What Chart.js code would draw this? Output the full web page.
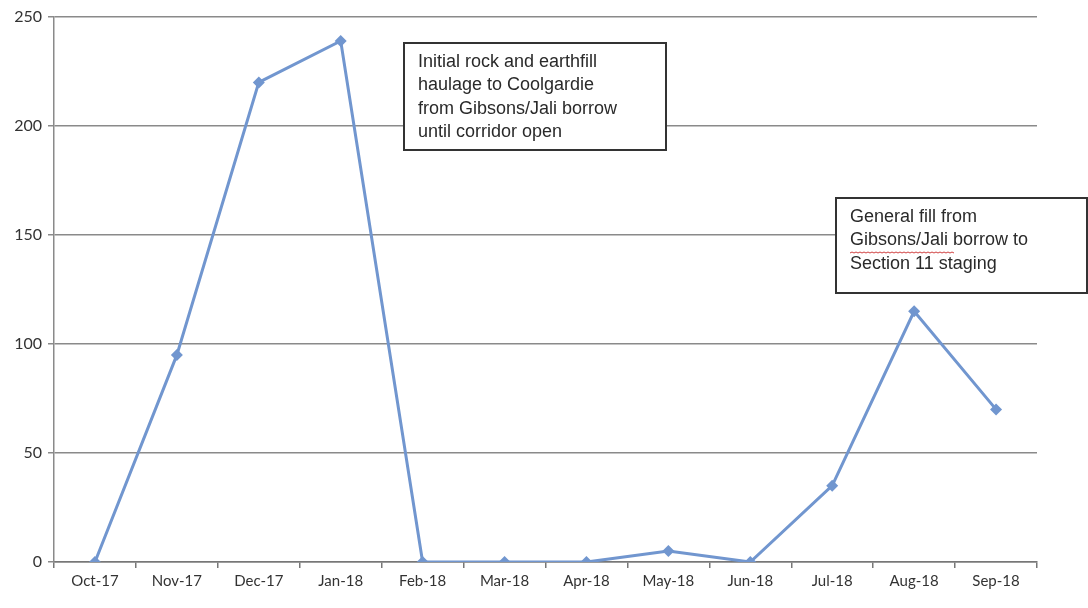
<!DOCTYPE html>
<html>
<head>
<meta charset="utf-8">
<script src="https://cdn.jsdelivr.net/npm/chart.js@4/dist/chart.umd.min.js"></script>
<style>
  html, body { margin: 0; padding: 0; background: #fff; }
  #wrap { width: 1088px; height: 608px; }
</style>
</head>
<body>
<div id="wrap"><canvas id="haulage" width="1088" height="608"></canvas></div>
<script>
// datos
const months = ['Oct-17', 'Nov-17', 'Dec-17', 'Jan-18', 'Feb-18', 'Mar-18',
                'Apr-18', 'May-18', 'Jun-18', 'Jul-18', 'Aug-18', 'Sep-18'];
const haulage = [0, 95, 220, 239, 0, 0, 0, 5, 0, 35, 115, 70];
const yTicks = [0, 50, 100, 150, 200, 250];

const noteEarly = ['Initial rock and earthfill', 'haulage to Coolgardie',
                   'from Gibsons/Jali borrow', 'until corridor open'];
const noteLate = ['General fill from', 'Gibsons/Jali borrow to', 'Section 11 staging'];

// cajas de texto sobre el grafico
const notesPlugin = {
  id: 'notes',
  afterDraw(chart) {
    const ctx = chart.ctx;
    function box(x, y, w, h, lines) {
      ctx.save();
      ctx.fillStyle = '#fff';
      ctx.fillRect(x, y, w, h);
      ctx.strokeStyle = '#333';
      ctx.lineWidth = 2;
      ctx.strokeRect(x, y, w, h);
      ctx.fillStyle = '#2a2a2a';
      ctx.font = '18px "Liberation Sans", Arial, sans-serif';
      ctx.textBaseline = 'middle';
      lines.forEach((t, i) => ctx.fillText(t, x + 14, y + 19 + i * 23.5));
      ctx.restore();
    }
    box(404, 43, 262, 107, noteEarly);
    box(836, 198, 251, 95, noteLate);
    // subrayado rojo del corrector
    ctx.save();
    ctx.strokeStyle = '#d04040';
    ctx.lineWidth = 1;
    ctx.beginPath();
    for (let x = 850; x <= 955; x += 2) {
      const yy = 252 + ((x / 2) % 2 ? 1 : 0);
      if (x === 850) ctx.moveTo(x, yy); else ctx.lineTo(x, yy);
    }
    ctx.stroke();
    ctx.restore();
  }
};

const chart = new Chart(document.getElementById('haulage'), {
  type: 'line',
  data: {
    labels: months,
    datasets: [{
      data: haulage,
      borderColor: '#7196cf',
      backgroundColor: '#7196cf',
      borderWidth: 3,
      pointStyle: 'rectRot',
      pointRadius: 6,
      pointBorderWidth: 0,
      tension: 0
    }]
  },
  options: {
    responsive: false,
    animation: false,
    layout: { padding: { top: 17, right: 51, left: 0, bottom: 0 } },
    plugins: { legend: { display: false }, tooltip: { enabled: false } },
    scales: {
      x: {
        offset: true,
        grid: { display: true, drawOnChartArea: false, drawTicks: true, offset: true, tickLength: 6, color: '#777', lineWidth: 1.5 },
        border: { color: '#777', width: 1.5 },
        ticks: { color: '#333', font: { family: 'Lato', size: 15 }, padding: 4, maxRotation: 0 },
        afterFit(s) { s.height = 46; }
      },
      y: {
        min: 0, max: 250,
        afterBuildTicks(s) { s.ticks = yTicks.map(v => ({ value: v })); },
        grid: { color: '#8a8a8a', lineWidth: 1.5, tickLength: 6 },
        border: { color: '#8a8a8a', width: 1.5 },
        ticks: { color: '#333', font: { family: 'Lato', size: 16 }, padding: 6 },
        afterFit(s) { s.width = 54; }
      }
    }
  },
  plugins: [notesPlugin]
});
</script>
</body>
</html>
